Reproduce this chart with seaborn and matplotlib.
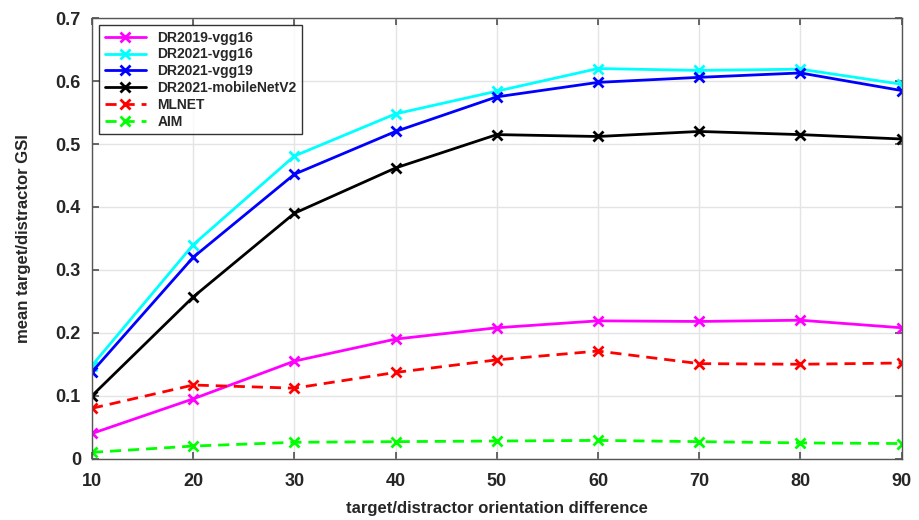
import matplotlib.pyplot as plt
import seaborn as sns
import pandas as pd

sns.set_theme(style="whitegrid")
plt.rcParams['font.family'] = ['Liberation Sans', 'DejaVu Sans']
plt.rcParams['font.weight'] = 'bold'

# orientation difference (degrees)
orient = [10, 20, 30, 40, 50, 60, 70, 80, 90]

dr2019_vgg16 = [0.040, 0.095, 0.155, 0.190, 0.208, 0.219, 0.218, 0.220, 0.208]
dr2021_vgg16 = [0.148, 0.340, 0.481, 0.548, 0.584, 0.620, 0.617, 0.619, 0.595]
dr2021_vgg19 = [0.138, 0.320, 0.452, 0.520, 0.575, 0.598, 0.606, 0.613, 0.585]
dr2021_mobilenet = [0.100, 0.257, 0.390, 0.462, 0.515, 0.512, 0.520, 0.515, 0.508]
mlnet = [0.080, 0.117, 0.112, 0.137, 0.157, 0.171, 0.151, 0.150, 0.152]
aim = [0.010, 0.020, 0.026, 0.027, 0.028, 0.029, 0.027, 0.025, 0.024]

names = ["DR2019-vgg16", "DR2021-vgg16", "DR2021-vgg19",
         "DR2021-mobileNetV2", "MLNET", "AIM"]
series = [dr2019_vgg16, dr2021_vgg16, dr2021_vgg19, dr2021_mobilenet, mlnet, aim]
colors = ["#ff00ff", "#00ffff", "#0000ff", "#000000", "#ff0000", "#00ff00"]
dashed = [False, False, False, False, True, True]

# long table for seaborn
df = pd.concat([pd.DataFrame({"orient": orient, "gsi": vals, "model": name})
                for name, vals in zip(names, series)])

fig, ax = plt.subplots(figsize=(9.2, 5.2), dpi=100)
fig.subplots_adjust(left=0.1, right=0.98, bottom=0.118, top=0.965)

sns.lineplot(data=df, x="orient", y="gsi", hue="model", style="model",
             hue_order=names, style_order=names,
             palette=dict(zip(names, colors)),
             dashes={n: ((4, 2.5) if d else "") for n, d in zip(names, dashed)},
             markers={n: "x" for n in names},
             markersize=7, markeredgewidth=2, linewidth=2, ax=ax)

# x markers need their edge coloured like the line
for ln in ax.lines:
    ln.set_markeredgecolor(ln.get_color())

ax.set_xlim(10, 90)
ax.set_ylim(0, 0.7)
ax.set_xticks(orient)
ax.set_yticks([0, 0.1, 0.2, 0.3, 0.4, 0.5, 0.6, 0.7])
ax.set_yticklabels(["0", "0.1", "0.2", "0.3", "0.4", "0.5", "0.6", "0.7"])
ax.tick_params(labelsize=13, direction="in", length=5, color="#555555",
               left=True, bottom=True, right=True, top=True)
ax.tick_params(axis="x", pad=10)
ax.tick_params(axis="y", pad=8)
for lab in ax.get_xticklabels() + ax.get_yticklabels():
    lab.set_fontweight("bold")
ax.grid(True, color="#e4e4e4", linewidth=1)
for sp in ax.spines.values():
    sp.set_color("#555555")
    sp.set_linewidth(1)

ax.set_xlabel("target/distractor orientation difference", fontsize=12,
              fontweight="bold", labelpad=8)
ax.set_ylabel("mean target/distractor GSI", fontsize=12, fontweight="bold",
              labelpad=18)

handles, labels = ax.get_legend_handles_labels()
leg = ax.legend(handles, labels, loc="upper left", frameon=True, fancybox=False,
                borderaxespad=0.5, handlelength=3, labelspacing=0.2,
                prop={"weight": "bold", "size": 10})
for ln in leg.get_lines():
    ln.set_markeredgecolor(ln.get_color())
leg.get_frame().set_edgecolor("black")
leg.get_frame().set_linewidth(1)

fig.savefig("out.png", dpi=100)
